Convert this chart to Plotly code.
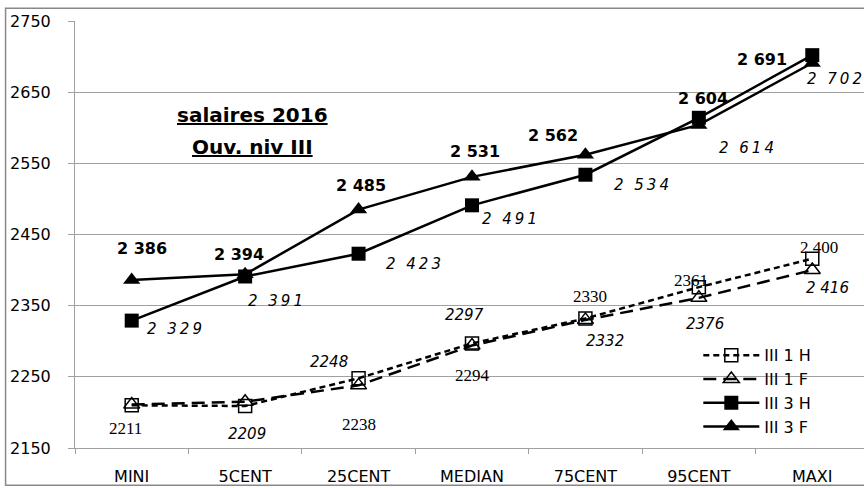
import plotly.graph_objects as go

# values
categories = ["MINI", "5CENT", "25CENT", "MEDIAN", "75CENT", "95CENT", "MAXI"]
iii1_h = [2210, 2209, 2248, 2297, 2332, 2376, 2416]
iii1_f = [2211, 2215, 2238, 2294, 2330, 2361, 2400]
iii3_h = [2329, 2391, 2423, 2491, 2534, 2614, 2702]
iii3_f = [2386, 2394, 2485, 2531, 2562, 2604, 2691]

# point labels as printed on the chart (None = no label)
lbl1_h = [None, "2209", "2248", "2297", "2332", "2376", "2 416"]
lbl1_f = ["2211", None, "2238", "2294", "2330", "2361", "2 400"]
lbl3_h = ["2 329", "2 391", "2 423", "2 491", "2 534", "2 614", "2 702"]
lbl3_f = ["2 386", "2 394", "2 485", "2 531", "2 562", "2 604", "2 691"]

y_ticks = [2150, 2250, 2350, 2450, 2550, 2650, 2750]
title_lines = ["salaires 2016", "Ouv. niv III"]

# label offsets in px (dx, dy downwards) - styling only
shift1_h = [(0, 0), (2, 28), (-30, -16), (-8, -28), (20, 23), (6, 37), (15, 29)]
shift1_f = [(-6, 24), (0, 0), (0, 39), (0, 30), (5, -23), (-8, -17), (7, -23)]
shift3_h = [(43, 8), (30, 25), (55, 10), (37, 14), (56, 10), (48, 30), (22, 24)]
shift3_f = [(10, -32), (-6, -20), (2, -24), (3, -25), (-32, -19), (4, -26), (-50, -3)]

SANS = "DejaVu Sans"
SERIF = "Liberation Serif"
GRID = "#a0a0a0"


def spread(s):
    # the italic labels of the reference are letter-spaced
    return "\u2009".join(s)


fig = go.Figure()
fig.add_trace(go.Scatter(
    x=categories, y=iii1_h, name="III 1 H", mode="lines+markers",
    line=dict(color="black", width=2.5, dash="6px,4px"),
    marker=dict(symbol="square-open", size=13, color="black", line=dict(width=1.5)),
    legendgroup="a",
))
fig.add_trace(go.Scatter(
    x=categories, y=iii1_f, name="III 1 F", mode="lines+markers",
    line=dict(color="black", width=2.5, dash="13px,7px"),
    marker=dict(symbol="triangle-up-open", size=14, color="black", line=dict(width=1.5)),
    legendgroup="b",
))
fig.add_trace(go.Scatter(
    x=categories, y=iii3_h, name="III 3 H", mode="lines+markers",
    line=dict(color="black", width=2.5),
    marker=dict(symbol="square", size=14, color="black"),
    legendgroup="c",
))
fig.add_trace(go.Scatter(
    x=categories, y=iii3_f, name="III 3 F", mode="lines+markers",
    line=dict(color="black", width=2.5),
    marker=dict(symbol="triangle-up", size=15, color="black"),
    legendgroup="d",
))

annotations = []


def add_labels(values, labels, shifts, font, fmt=lambda s: s):
    for cat, v, t, (dx, dy) in zip(categories, values, labels, shifts):
        if t is None:
            continue
        annotations.append(dict(
            x=cat, y=v, text=fmt(t), showarrow=False,
            xshift=dx, yshift=-dy, font=font,
        ))


add_labels(iii1_h, lbl1_h, shift1_h, dict(family=SANS, size=15, color="black", style="italic"))
add_labels(iii1_f, lbl1_f, shift1_f, dict(family=SERIF, size=17, color="black"))
add_labels(iii3_h, lbl3_h, shift3_h, dict(family=SANS, size=15, color="black", style="italic"), spread)
add_labels(iii3_f, lbl3_f, shift3_f, dict(family=SANS, size=16, color="black", weight="bold"))

# title block inside the plot
for i, line in enumerate(title_lines):
    annotations.append(dict(
        xref="paper", yref="paper", x=0.225, y=0.780 - i * 0.075,
        xanchor="center", yanchor="middle",
        text=f"<b><u>{line}</u></b>", showarrow=False,
        font=dict(family=SANS, size=20, color="black"),
    ))

fig.update_layout(
    width=864, height=488,
    margin=dict(l=75, r=0, t=21, b=40),
    paper_bgcolor="white", plot_bgcolor="white",
    font=dict(family=SANS, size=16, color="black"),
    showlegend=True,
    legend=dict(
        x=0.790, y=0.257, xanchor="left", yanchor="top",
        bgcolor="rgba(0,0,0,0)", font=dict(size=16),
        tracegroupgap=0, itemwidth=56,
    ),
    annotations=annotations,
    shapes=[dict(
        type="rect", xref="paper", yref="paper",
        x0=-0.088, x1=1.05, y0=-0.087, y1=1.03,
        line=dict(color="#888888", width=1.5),
    )],
)
fig.update_xaxes(
    range=[-0.5, 6.456], showgrid=False,
    showline=True, linecolor=GRID, linewidth=1,
    ticks="outside", tickson="boundaries", ticklen=5, tickcolor=GRID,
    ticklabelstandoff=14,
)
fig.update_yaxes(
    range=[2150, 2750], tickvals=y_ticks,
    showgrid=True, gridcolor=GRID, gridwidth=1,
    showline=True, linecolor=GRID, linewidth=1,
    ticks="outside", ticklen=6, tickcolor=GRID,
    ticklabelstandoff=14, zeroline=False,
)

# the page's default body margin would shift the fixed-size figure
fig.write_html(
    "out.html",
    config={"displayModeBar": False},
    post_script="document.body.style.margin='0px';",
)
